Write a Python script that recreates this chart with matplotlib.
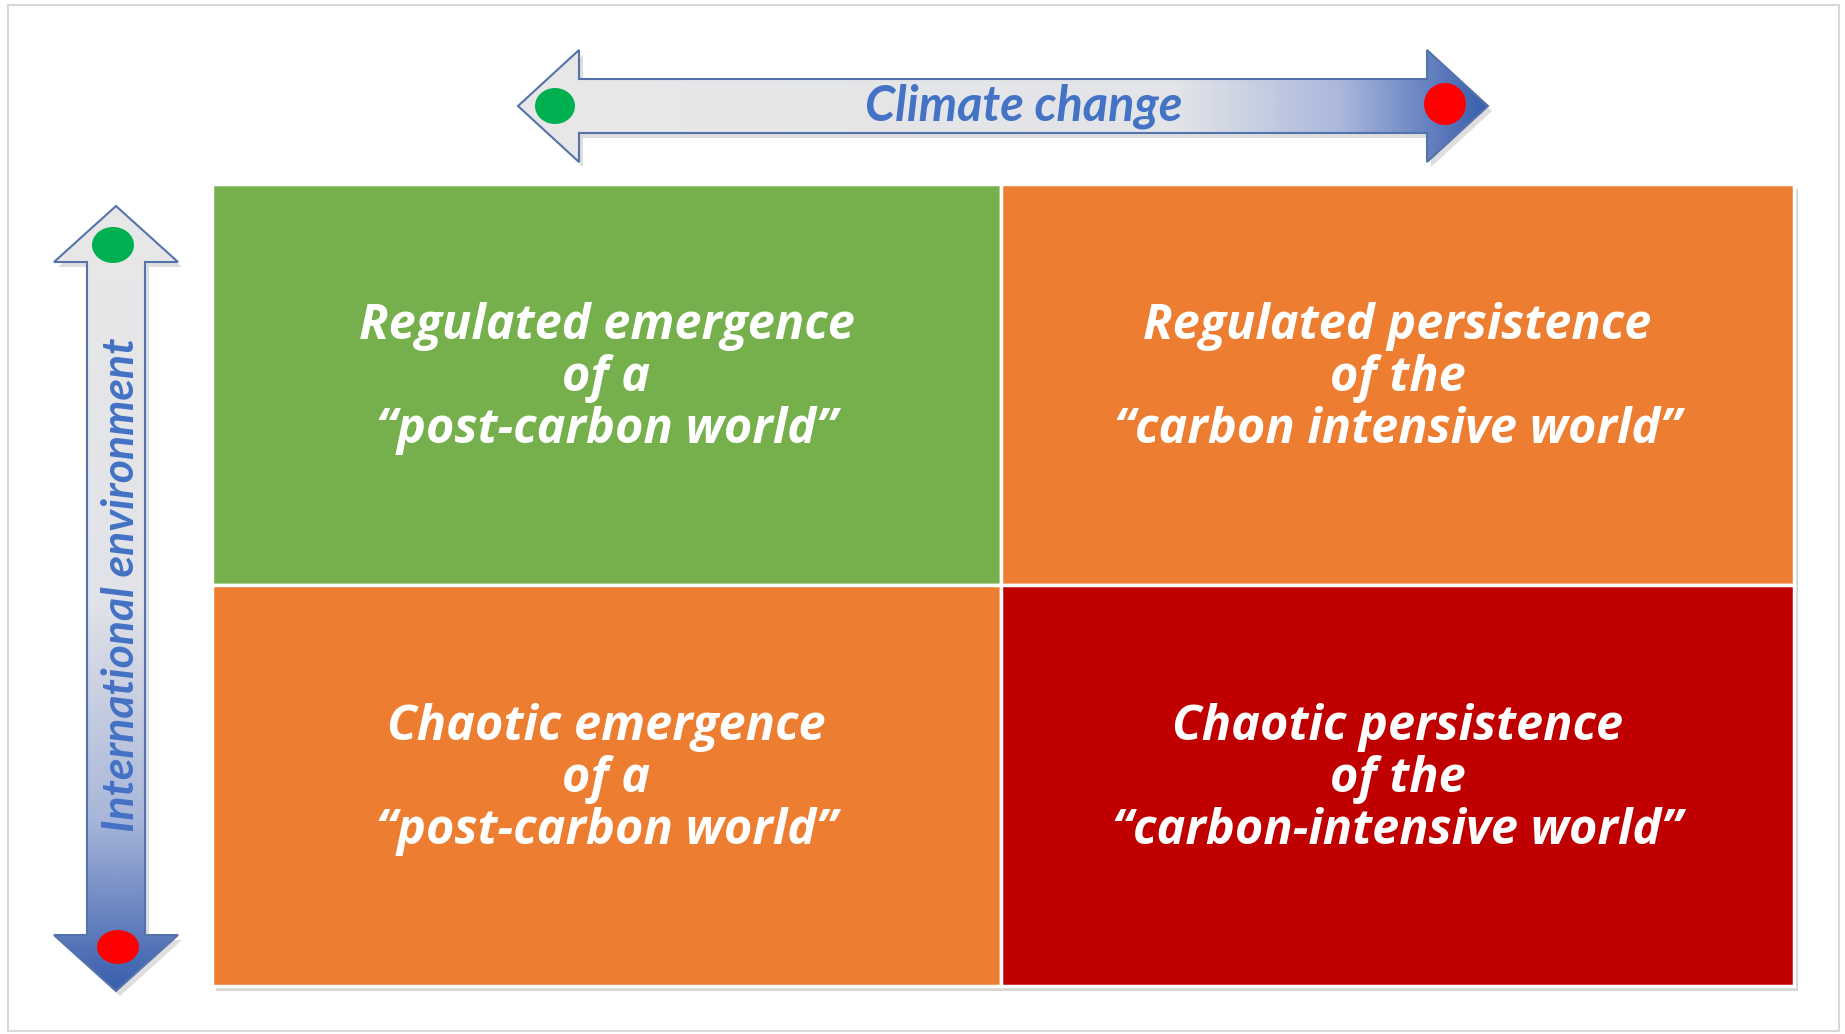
import numpy as np
import matplotlib.pyplot as plt
from matplotlib.patches import Polygon, Rectangle, Ellipse
from matplotlib.colors import LinearSegmentedColormap

W, H = 1845, 1034

# quadrant content, row 0 is the top row
quad_labels = [
    ["Regulated emergence\nof a\n\u201cpost-carbon world\u201d",
     "Regulated persistence\nof the\n\u201ccarbon intensive world\u201d"],
    ["Chaotic emergence\nof a\n\u201cpost-carbon world\u201d",
     "Chaotic persistence\nof the\n\u201ccarbon-intensive world\u201d"],
]
quad_colors = [["#75b04c", "#ed7d31"],
               ["#ed7d31", "#c00000"]]
x_label = "Climate change"
y_label = "International environment"
end_colors = ["#00b050", "#ff0000"]   # good end, bad end

FONT = ["Open Sans", "DejaVu Sans"]
AXFONT = ["Lato", "DejaVu Sans"]
h_cmap = LinearSegmentedColormap.from_list(
    "h", [(0, "#e8e8e8"), (0.68, "#e3e4e8"), (0.85, "#aab8dc"), (1, "#3a5fae")])
v_cmap = LinearSegmentedColormap.from_list(
    "v", [(0, "#e8e8e8"), (0.5, "#e2e3e8"), (0.78, "#a9b7da"), (1, "#3a5fae")])


def h_arrow(x0, x1, yc, hl, hh, sh):
    return [(x0, yc), (x0 + hl, yc - hh), (x0 + hl, yc - sh), (x1 - hl, yc - sh),
            (x1 - hl, yc - hh), (x1, yc), (x1 - hl, yc + hh), (x1 - hl, yc + sh),
            (x0 + hl, yc + sh), (x0 + hl, yc + hh)]


def draw_arrow(ax, pts, vertical, cmap):
    pts = np.array(pts, dtype=float)
    shadow = Polygon(pts + [4, 5], closed=True, fc="#7f7f7f", ec="none", alpha=0.25, zorder=1)
    ax.add_patch(shadow)
    poly = Polygon(pts, closed=True, fc="none", ec="#5573ab", lw=1.5, zorder=3)
    ax.add_patch(poly)
    x0, x1 = pts[:, 0].min(), pts[:, 0].max()
    y0, y1 = pts[:, 1].min(), pts[:, 1].max()
    g = np.linspace(0, 1, 256)
    grad = g[:, None] if vertical else g[None, :]
    im = ax.imshow(grad, extent=[x0, x1, y1, y0], cmap=cmap, aspect="auto",
                   origin="upper", zorder=2, interpolation="bicubic")
    im.set_clip_path(poly)


fig = plt.figure(figsize=(W / 100, H / 100), dpi=100)
ax = fig.add_axes([0, 0, 1, 1])
ax.axis("off")

# faint frame of the slide
ax.add_patch(Rectangle((8, 5), W - 14, H - 8, fc="white", ec="#d8d8d8", lw=1.5, zorder=0))

# quadrant grid
gx0, gx1, gxm = 212, 1794, 1001
gy0, gy1, gym = 184, 986, 585
ax.add_patch(Rectangle((gx0 + 4, gy0 + 5), gx1 - gx0, gy1 - gy0, fc="#8c8c8c",
                       ec="none", alpha=0.35, zorder=1))
xs = [(gx0, gxm), (gxm, gx1)]
ys = [(gy0, gym), (gym, gy1)]
for r in range(2):
    for c in range(2):
        (a, b), (t, u) = xs[c], ys[r]
        ax.add_patch(Rectangle((a, t), b - a, u - t, fc=quad_colors[r][c],
                               ec="white", lw=2.5, zorder=2))
        ax.text((a + b) / 2, (t + u) / 2 - 6, quad_labels[r][c], color="white",
                fontsize=35, fontweight="bold", fontstyle="italic", family=FONT,
                ha="center", va="center", linespacing=1.07, zorder=4)

# horizontal arrow: climate change
draw_arrow(ax, h_arrow(518, 1488, 106, 61, 56, 27), False, h_cmap)
ax.text(1024, 106, x_label, color="#4472c4", fontsize=35, fontweight="bold",
        fontstyle="italic", family=AXFONT, ha="center", va="center", zorder=4)
ax.add_patch(Ellipse((555, 106), 40, 36, fc=end_colors[0], ec="none", zorder=4))
ax.add_patch(Ellipse((1445, 104), 42, 42, fc=end_colors[1], ec="none", zorder=4))

# vertical arrow: international environment
vpts = [(y, x) for x, y in h_arrow(206, 991, 116, 56, 62, 29)]
draw_arrow(ax, vpts, True, v_cmap)
ax.text(121, 585, y_label, color="#4472c4", fontsize=32, fontweight="bold",
        fontstyle="italic", family=AXFONT, ha="center", va="center", rotation=90, zorder=4)
ax.add_patch(Ellipse((113, 245), 42, 36, fc=end_colors[0], ec="none", zorder=4))
ax.add_patch(Ellipse((118, 947), 42, 34, fc=end_colors[1], ec="none", zorder=4))

ax.set_xlim(0, W)
ax.set_ylim(H, 0)
fig.savefig("out.png", dpi=100)
